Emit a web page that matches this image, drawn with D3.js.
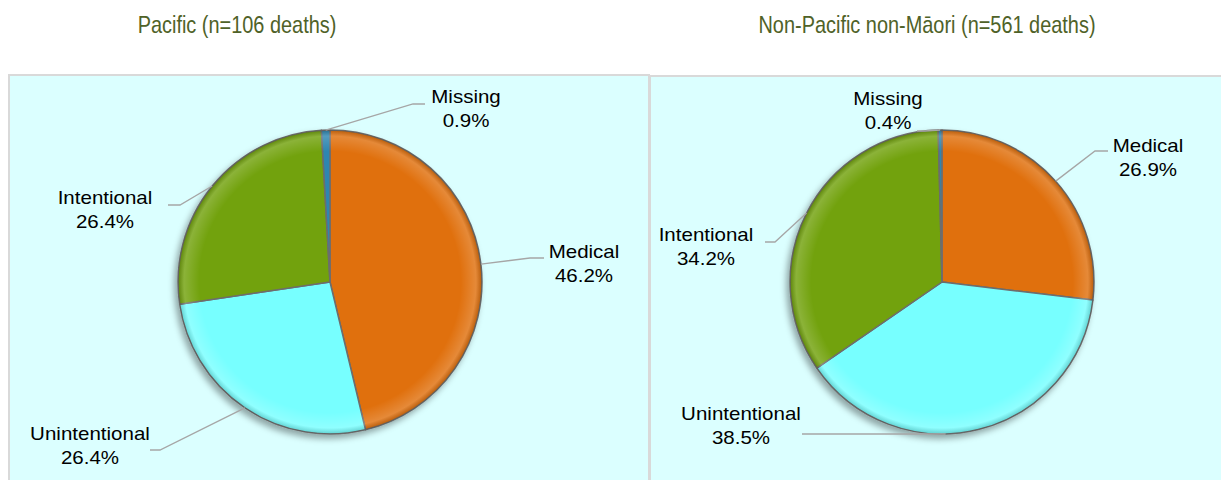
<!DOCTYPE html>
<meta charset="utf-8">
<style>
  body { margin: 0; background: #fff; }
  text { font-family: Arial, "Liberation Sans", sans-serif; }
</style>
<svg id="mainsvg" width="1221" height="480"></svg>
<script src="https://d3js.org/d3.v7.min.js"></script>
<script>

// data
const categories = ["Medical", "Unintentional", "Intentional", "Missing"];
const pacificValues = [46.2, 26.4, 26.4, 0.9];
const nonPacificValues = [26.9, 38.5, 34.2, 0.4];
const chartTitles = ["Pacific (n=106 deaths)", "Non-Pacific non-Māori (n=561 deaths)"];

const colors = ["#e07008", "#77ffff", "#72a20c", "#2e86b0"];

// label placement (text centre, first baseline, leader elbow and end) per slice
const pacificLabels = [
  { tx: 584, ty: 258, elbow: [530, 258], end: [544, 258] },
  { tx: 90, ty: 440, elbow: [160, 450], end: [150, 450] },
  { tx: 105, ty: 204, elbow: [180, 205], end: [168, 205] },
  { tx: 466, ty: 103, elbow: [413, 104], end: [425, 104] }
];
const nonPacificLabels = [
  { tx: 1148, ty: 152, elbow: [1095, 151], end: [1108, 151] },
  { tx: 741, ty: 420, attach: 0.59, elbow: [945, 434], end: [802, 434] },
  { tx: 706, ty: 241, elbow: [775, 242], end: [765, 242] },
  { tx: 888, ty: 105, elbow: [925, 131], end: [917, 131] }
];

const svg = d3.select("#mainsvg");
const defs = svg.append("defs");

const shadow = defs.append("filter").attr("id", "shadow")
  .attr("x", "-20%").attr("y", "-20%").attr("width", "140%").attr("height", "140%");
shadow.append("feDropShadow")
  .attr("dx", -3).attr("dy", 4).attr("stdDeviation", 3)
  .attr("flood-color", "#000").attr("flood-opacity", 0.35);

const bevel = defs.append("radialGradient").attr("id", "bevel");
bevel.append("stop").attr("offset", "0.86").attr("stop-color", "#fff").attr("stop-opacity", 0);
bevel.append("stop").attr("offset", "0.96").attr("stop-color", "#fff").attr("stop-opacity", 0.18);
bevel.append("stop").attr("offset", "1").attr("stop-color", "#000").attr("stop-opacity", 0.18);

// panels
const panels = [
  { x: 9, y: 75, w: 640, h: 420 },
  { x: 650, y: 76, w: 580, h: 420 }
];
svg.append("g").selectAll("rect")
  .data(panels)
  .join("rect")
  .attr("x", d => d.x).attr("y", d => d.y)
  .attr("width", d => d.w).attr("height", d => d.h)
  .attr("fill", "#dbffff")
  .attr("stroke", "#d9d9d9")
  .attr("stroke-width", 2);

// titles (the source font is condensed)
const titlePos = [237, 927];
svg.append("g").selectAll("g")
  .data(chartTitles)
  .join("g")
  .attr("transform", (d, i) => `translate(${titlePos[i]},33) scale(0.83,1)`)
  .append("text")
  .attr("text-anchor", "middle")
  .attr("font-size", 24)
  .attr("fill", "#4f6228")
  .text(d => d);

const pie = d3.pie().sort(null).value(d => d);
const radius = 152;
const arc = d3.arc().innerRadius(0).outerRadius(radius);

function drawPie(values, cx, cy, labels) {
  const arcs = pie(values);
  const g = svg.append("g").attr("transform", `translate(${cx},${cy})`);

  const slices = g.append("g").attr("filter", "url(#shadow)");
  slices.selectAll("path")
    .data(arcs)
    .join("path")
    .attr("d", arc)
    .attr("fill", (d, i) => colors[i])
    .attr("stroke", "#6d6d6d")
    .attr("stroke-width", 1.5)
    .attr("stroke-linejoin", "round");

  g.append("circle")
    .attr("r", radius)
    .attr("fill", "url(#bevel)")
    .attr("pointer-events", "none");

  // leader lines
  const lead = svg.append("g")
    .attr("fill", "none")
    .attr("stroke", "#a6a6a6")
    .attr("stroke-width", 1.3);
  lead.selectAll("path")
    .data(arcs)
    .join("path")
    .attr("d", (d, i) => {
      const L = labels[i];
      const f = L.attach == null ? 0.5 : L.attach;
      const a = d.startAngle + (d.endAngle - d.startAngle) * f;
      const x0 = cx + radius * Math.sin(a);
      const y0 = cy - radius * Math.cos(a);
      const p = d3.path();
      p.moveTo(x0, y0);
      p.lineTo(L.elbow[0], L.elbow[1]);
      p.lineTo(L.end[0], L.end[1]);
      return p;
    });

  // labels (the source font is a bit wider than Arial)
  const lab = svg.append("g").selectAll("g")
    .data(arcs)
    .join("g")
    .attr("transform", (d, i) => `translate(${labels[i].tx},${labels[i].ty}) scale(1.14,1)`);
  const t = lab.append("text")
    .attr("text-anchor", "middle")
    .attr("font-size", 18)
    .attr("fill", "#000");
  t.append("tspan").attr("x", 0).attr("y", 0).text((d, i) => categories[i]);
  t.append("tspan").attr("x", 0).attr("y", 24).text(d => d.data.toFixed(1) + "%");
}

drawPie(pacificValues, 330, 282, pacificLabels);
drawPie(nonPacificValues, 942, 282, nonPacificLabels);

</script>
